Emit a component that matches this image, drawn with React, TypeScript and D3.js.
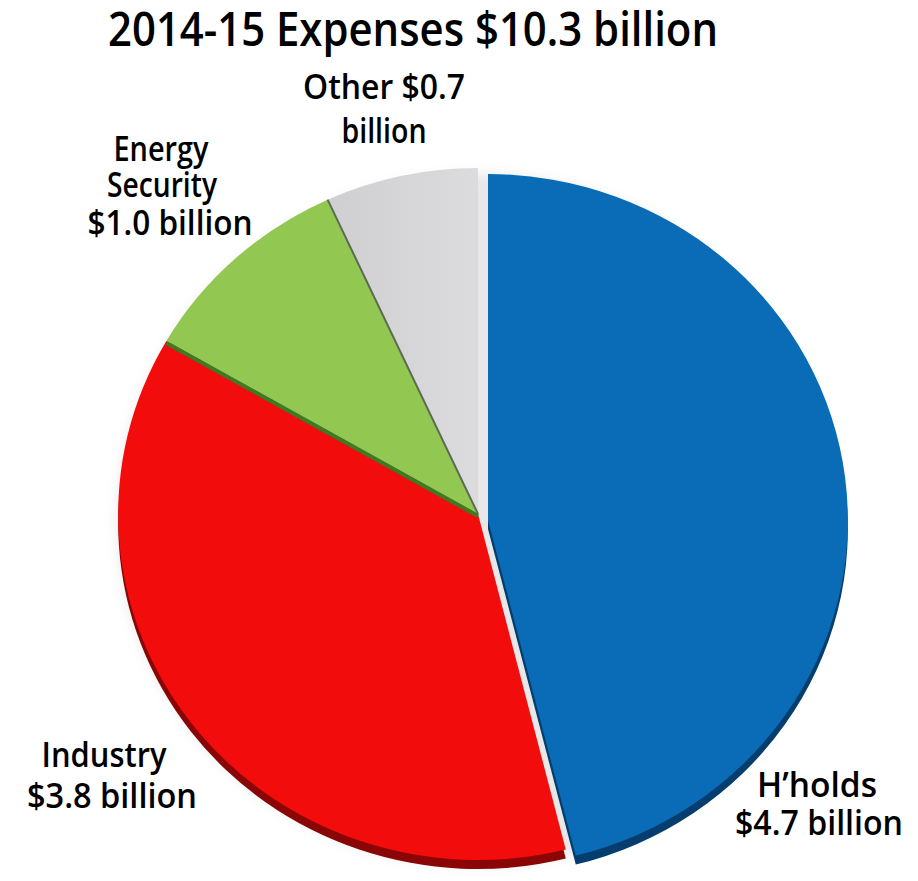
import * as d3 from 'd3';

// Slice data, clockwise from 12 o'clock
const categories = ["H'holds", 'Industry', 'Energy Security', 'Other'];
const values = [4.7, 3.8, 1.0, 0.7];
const topColors = ['#0a6cb6', '#f20c0c', '#92c852', '#d2d2d4'];
const sideColors = ['#053e6e', '#8a0606', '#3f7a22', '#8d8d8d'];
const exploded = [true, false, false, false];

// label lines per slice
const labelLines = [
  ['H\u2019holds', '$4.7 billion'],
  ['Industry', '$3.8 billion'],
  ['Energy', 'Security', '$1.0 billion'],
  ['Other $0.7', 'billion'],
];
const title = '2014-15 Expenses $10.3 billion';

export default function App() {
  const W = 918;
  const H = 881;
  const cx = 478;
  const cy = 514;
  const R = 346;
  const sx = 1.04; // slight horizontal stretch of the disc
  const depth = 9;

  const pie = d3
    .pie<number>()
    .sort(null)
    .value((d) => d)
    .startAngle(0)
    .endAngle(Math.PI * 2);
  const arcs = pie(values);
  const arc = d3.arc<d3.PieArcDatum<number>>().innerRadius(0).outerRadius(R);

  // label layout: centre x, baseline y and squeezed width of every line
  const labelLayout = [
    [[817, 797, 120], [819, 835, 168]],
    [[104, 767, 125], [112, 808, 170]],
    [[161, 161, 95], [162, 197, 110], [170, 235, 165]],
    [[384, 99, 162], [384, 143, 85]],
  ];

  const offset = (i: number) => (exploded[i] ? [10, 6] : [0, 0]);

  const font = "'Open Sans', Lato, sans-serif";

  return (
    <div style={{ position: 'absolute', left: 0, top: 0 }}>
      <svg width={W} height={H} viewBox={`0 0 ${W} ${H}`} style={{ display: 'block', background: '#fff' }}>
        <defs>
          <filter id="soft" x="-10%" y="-10%" width="120%" height="120%">
            <feGaussianBlur stdDeviation="6" />
          </filter>
          <linearGradient id="greyGrad" x1="0" x2="1" y1="0" y2="0">
            <stop offset="0" stopColor="#cfcfd1" />
            <stop offset="1" stopColor="#dcdcde" />
          </linearGradient>
        </defs>

        <text
          x={413}
          y={46}
          textAnchor="middle"
          fontFamily={font}
          fontSize={47}
          fontWeight={600}
          textLength={610}
          lengthAdjust="spacingAndGlyphs"
          fill="#000"
        >
          {title}
        </text>

        {/* soft halo */}
        <g transform={`translate(${cx},${cy + 6}) scale(${sx},1)`} opacity={0.22}>
          <circle r={R} fill="#999" filter="url(#soft)" />
        </g>

        {/* side faces */}
        {arcs.map((a, i) => {
          const [ox, oy] = offset(i);
          return (
            <g key={'s' + i} transform={`translate(${cx + ox},${cy + oy + depth}) scale(${sx},1)`}>
              <path d={arc(a) || ''} fill={sideColors[i]} />
            </g>
          );
        })}

        {/* top faces */}
        {arcs.map((a, i) => {
          const [ox, oy] = offset(i);
          return (
            <g key={'t' + i} transform={`translate(${cx + ox},${cy + oy}) scale(${sx},1)`}>
              <path d={arc(a) || ''} fill={i === 3 ? 'url(#greyGrad)' : topColors[i]} />
            </g>
          );
        })}

        {/* darker edges along green/red and grey/green boundaries */}
        {[2, 3].map((i) => {
          const ang0 = arcs[i].startAngle;
          return (
            <line
              key={'e' + i}
              x1={cx}
              y1={cy}
              x2={cx + Math.sin(ang0) * R * sx}
              y2={cy - Math.cos(ang0) * R}
              stroke={i === 2 ? '#3f7a22' : '#5c6b52'}
              strokeWidth={i === 2 ? 4 : 2}
              transform={`translate(0,${i === 2 ? 2 : 0})`}
            />
          );
        })}

        {/* labels */}
        {labelLines.map((lines, i) => (
          <g key={'l' + i} data-cat={categories[i]}>
            {lines.map((t, j) => {
              const [lx, ly, lw] = labelLayout[i][j];
              return (
                <text
                  key={j}
                  x={lx}
                  y={ly}
                  textAnchor="middle"
                  fontFamily={font}
                  fontSize={35}
                  fontWeight={600}
                  textLength={lw}
                  lengthAdjust="spacingAndGlyphs"
                  fill="#000"
                >
                  {t}
                </text>
              );
            })}
          </g>
        ))}
      </svg>
    </div>
  );
}
